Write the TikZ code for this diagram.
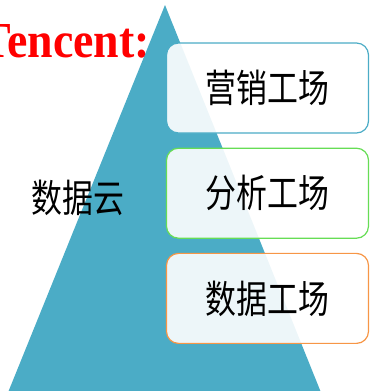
\documentclass[tikz,border=0pt]{standalone}
\usepackage{fontspec}
\setmainfont{Liberation Serif}
\newfontfamily\cjk{Noto Sans CJK SC}
\usepackage{tikz}
\usetikzlibrary{positioning}

\definecolor{aqua}{HTML}{4BACC6}
\definecolor{leaf}{HTML}{66DD55}
\definecolor{peach}{HTML}{F79646}

\newcommand{\tallText}[1]{\scalebox{1}[1.25]{#1}}

\tikzset{
	factory/.style={draw=#1, line width=1.2pt, rounded corners=12bp,
		fill=white, fill opacity=0.9, text opacity=1,
		minimum width=202bp, minimum height=90bp, inner sep=0pt,
		font=\cjk\fontsize{31}{31}\selectfont},
}

\begin{document}
\begin{tikzpicture}[x=1bp,y=-1bp]
		\useasboundingbox (0,0) rectangle (370,391);
		\clip (0,0) rectangle (370,391);
		
		% pyramid
		\fill[aqua] (165,5) -- (322,395) -- (7,395) -- cycle;
		
		% title
		\node[anchor=base east, inner sep=0pt, text=red,
		font=\bfseries\fontsize{46}{46}\selectfont] (brand) at (150,57)
		{\scalebox{1}[1.1]{Tencent:}};
		
		% layers
		\node[factory=aqua] (market) at (267.5,88) {\tallText{营销工场}};
		\node[factory=leaf, below=14bp of market] (analysis) {\tallText{分析工场}};
		\node[factory=peach, below=14bp of analysis] (datafac) {\tallText{数据工场}};
		
		\node[font=\cjk\fontsize{31}{31}\selectfont] (cloud) at (78,198)
		{\tallText{数据云}};
		
	\end{tikzpicture}
\end{document}
